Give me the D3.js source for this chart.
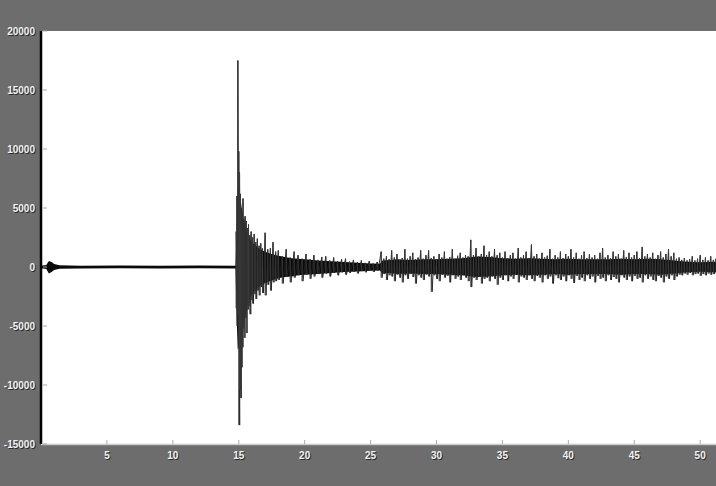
<!DOCTYPE html>
<html><head><meta charset="utf-8">
<script src="https://cdn.jsdelivr.net/npm/d3@7"></script>
<style>
html,body{margin:0;padding:0;background:#6d6d6d;}
svg{display:block;}
.lbl{font-family:"Liberation Sans",Arial,sans-serif;font-size:10px;font-weight:bold;fill:#f2f2f2;}
.sh{font-family:"Liberation Sans",Arial,sans-serif;font-size:10px;font-weight:bold;fill:#2a2a2a;}
</style></head>
<body>
<script>
// ---- data ----
const yTicks = [-15000, -10000, -5000, 0, 5000, 10000, 15000, 20000];
const xTicks = [5, 10, 15, 20, 25, 30, 35, 40, 45, 50];

// dense core of the trace (envelope)
const bandTime = [0,0.4,0.6,0.8,1.0,1.4,3,6,9,12,14.75,14.82,14.92,15.02,15.12,15.22,15.4,15.6,15.8,16.0,16.5,17.0,17.5,18.0,18.5,19,19.5,20,21,22,23,24,25,25.7,25.9,26.5,27,28,29,30,31,32,33,34,35,36,37,38,39,40,41,42,43,44,45,46,47,48,49,50,51.3];
const bandHigh = [110,160,500,420,260,140,110,120,100,120,110,2500,6500,7000,6000,5000,3800,3000,2500,2100,1600,1300,1100,950,850,750,700,650,550,480,420,360,300,280,550,600,650,600,650,650,700,750,900,850,750,700,750,700,650,700,650,650,650,700,650,700,650,550,450,400,450];
const bandLow = [-110,-160,-550,-420,-260,-140,-120,-110,-120,-110,-120,-3500,-7000,-6800,-6800,-6000,-4500,-3500,-2800,-2300,-1700,-1350,-1150,-950,-850,-800,-700,-650,-600,-500,-430,-380,-320,-300,-550,-500,-600,-550,-600,-600,-650,-700,-850,-800,-700,-650,-700,-650,-600,-650,-600,-600,-600,-650,-600,-600,-650,-550,-450,-400,-450];

// individual excursions of the waveform
const swingTime = [14.8,14.86,14.93,15.0,15.06,15.12,15.18,15.25,15.32,15.4,15.48,15.56,15.65,15.74,15.84,15.94,16.05,16.17,16.29,16.41,16.54,16.67,16.8,17.0,17.2,17.4,17.6,17.8,
18.0,18.3,18.6,18.9,19.2,19.5,19.8,20.1,20.4,20.7,21.0,21.3,21.6,21.9,22.2,22.5,22.8,23.1,23.4,23.7,24.0,24.3,24.6,24.9,25.2,25.5,
25.8,26.0,26.2,26.4,26.6,26.8,27.0,27.2,27.4,27.6,27.8,28.0,28.2,28.4,28.6,28.8,29.0,29.2,29.4,29.6,
29.8,30.0,30.2,30.4,30.6,30.8,31.0,31.2,31.4,31.6,31.8,32.0,32.2,32.4,32.6,32.8,33.0,33.2,33.4,33.6,
33.8,34.0,34.2,34.4,34.6,34.8,35.0,35.2,35.4,35.6,35.8,36.0,36.2,36.4,36.6,36.8,37.0,37.2,37.4,37.6,
37.8,38.0,38.2,38.4,38.6,38.8,39.0,39.2,39.4,39.6,39.8,40.0,40.2,40.4,40.6,40.8,41.0,41.2,41.4,41.6,
41.8,42.0,42.2,42.4,42.6,42.8,43.0,43.2,43.4,43.6,43.8,44.0,44.2,44.4,44.6,44.8,45.0,45.2,45.4,45.6,
45.8,46.0,46.2,46.4,46.6,46.8,47.0,47.2,47.4,47.6,47.8,48.0,48.2,48.4,48.6,48.8,49.0,49.2,49.4,49.6,
49.8,50.0,50.2,50.4,50.6,50.8,51.0,51.2];
const swingHigh = [3000,6000,17500,9800,8000,6200,5000,4600,5800,4000,4300,3900,3300,3600,2700,3000,2500,2800,2100,2400,1800,2000,1600,2900,1500,1600,2100,1300,
1400,900,1500,800,1300,1000,700,1100,650,1000,600,850,900,550,800,500,650,700,450,600,400,550,350,500,300,420,
1300,700,900,650,1400,800,1100,600,750,1500,700,900,1200,650,800,1400,700,1000,1400,750,
900,650,1100,800,1300,700,850,1500,700,950,1200,800,1000,900,2300,1000,1600,900,1100,1800,
1000,1300,900,1500,1000,1200,800,1300,750,1000,1200,700,1600,800,1000,1300,750,1900,900,1100,
700,1200,800,950,1500,700,1000,800,1300,750,1100,900,1500,800,1200,700,1000,1300,750,1100,
800,1000,700,1200,1600,800,1000,750,1300,900,1100,700,1400,850,1200,800,1000,1300,750,1700,
900,1100,800,1200,700,1000,1300,800,1100,1500,900,1200,700,800,600,750,550,650,900,550,
700,1000,600,800,550,900,600,700];
const swingLow = [-3500,-5000,-4000,-13400,-10400,-11100,-8500,-6800,-5200,-6000,-4300,-5600,-3600,-3300,-4000,-2800,-3100,-2300,-2700,-2000,-2400,-1700,-2200,-2400,-1500,-2000,-1300,-1200,
-1100,-1400,-800,-1300,-900,-700,-1200,-650,-1000,-800,-600,-900,-550,-800,-500,-700,-450,-650,-500,-400,-550,-350,-450,-300,-420,-300,
-900,-600,-1100,-700,-800,-1200,-650,-900,-1300,-700,-1000,-600,-850,-1400,-700,-900,-1100,-650,-800,-2100,
-700,-1000,-1200,-650,-900,-750,-1300,-700,-1000,-800,-1100,-700,-900,-1200,-1700,-900,-1100,-800,-1400,-1000,
-900,-1200,-800,-1000,-1500,-900,-1100,-700,-1200,-800,-1000,-650,-1300,-800,-900,-1100,-700,-1000,-1200,-750,
-900,-1300,-700,-1000,-800,-1400,-700,-950,-1100,-800,-1200,-700,-1000,-1350,-750,-1100,-900,-1200,-700,-1000,
-800,-1300,-750,-1000,-900,-1200,-700,-1100,-850,-1000,-1300,-700,-900,-1100,-800,-1200,-750,-1000,-900,-1300,
-700,-1000,-800,-1100,-1200,-750,-900,-1300,-800,-1000,-700,-1100,-800,-650,-700,-550,-650,-500,-700,-600,
-550,-750,-600,-700,-550,-650,-600,-500];

// ---- drawing ----
const W = 716, H = 486;
const svg = d3.select("body").append("svg").attr("width", W).attr("height", H);
svg.append("rect").attr("width", W).attr("height", H).attr("fill", "#6d6d6d");

const x = d3.scaleLinear().domain([0, 51.2]).range([41, 716]);
const y = d3.scaleLinear().domain([-15000, 20000]).range([444, 31]);

// plot area
svg.append("rect").attr("x", 41).attr("y", 31).attr("width", W - 41).attr("height", 413).attr("fill", "#ffffff");
svg.append("line").attr("x1", 41).attr("x2", W).attr("y1", 444.5).attr("y2", 444.5).attr("stroke", "#c9c9c9").attr("stroke-width", 1.5);

svg.append("clipPath").attr("id", "c").append("rect").attr("x", 41).attr("y", 31).attr("width", W - 41).attr("height", 413);
const g = svg.append("g").attr("clip-path", "url(#c)");

// dense core
const band = bandTime.map((t, i) => ({t, hi: bandHigh[i], lo: bandLow[i]}));
g.append("path").datum(band)
  .attr("d", d3.area().x(d => x(d.t)).y0(d => y(d.lo)).y1(d => y(d.hi)))
  .attr("fill", "#0a0a0a");

// waveform swings
const pts = [];
swingTime.forEach((t, i) => { pts.push({t, v: swingHigh[i]}); pts.push({t: t + 0.07, v: swingLow[i]}); });
g.append("path").datum(pts)
  .attr("d", d3.line().x(d => x(d.t)).y(d => y(d.v)))
  .attr("fill", "none").attr("stroke", "#1e1e1e").attr("stroke-width", 0.9);

// vertical strokes for excursions
g.selectAll("line.sw").data(swingTime).enter().append("line")
  .attr("x1", d => x(d)).attr("x2", d => x(d))
  .attr("y1", (d, i) => y(swingHigh[i])).attr("y2", (d, i) => y(swingLow[i]))
  .attr("stroke", "#3a3a3a").attr("stroke-width", 1);

// left axis
const ya = svg.append("g").attr("transform", "translate(41,0)");
ya.append("line").attr("x1", 0).attr("x2", 0).attr("y1", 31).attr("y2", 444).attr("stroke", "#000").attr("stroke-width", 2.5);
yTicks.forEach(v => {
  ya.append("line").attr("x1", 2).attr("x2", 6).attr("y1", y(v)).attr("y2", y(v)).attr("stroke", "#aaa");
  ya.append("text").attr("class", "sh").attr("x", -5).attr("y", y(v) + 4.5).attr("text-anchor", "end").text(v);
  ya.append("text").attr("class", "lbl").attr("x", -6).attr("y", y(v) + 3.5).attr("text-anchor", "end").text(v);
});

// bottom axis
xTicks.forEach(v => {
  svg.append("line").attr("x1", x(v)).attr("x2", x(v)).attr("y1", 440).attr("y2", 444).attr("stroke", "#aaa");
  svg.append("text").attr("class", "sh").attr("x", x(v) + 1).attr("y", 460).attr("text-anchor", "middle").text(v);
  svg.append("text").attr("class", "lbl").attr("x", x(v)).attr("y", 459).attr("text-anchor", "middle").text(v);
});
</script>
</body></html>
